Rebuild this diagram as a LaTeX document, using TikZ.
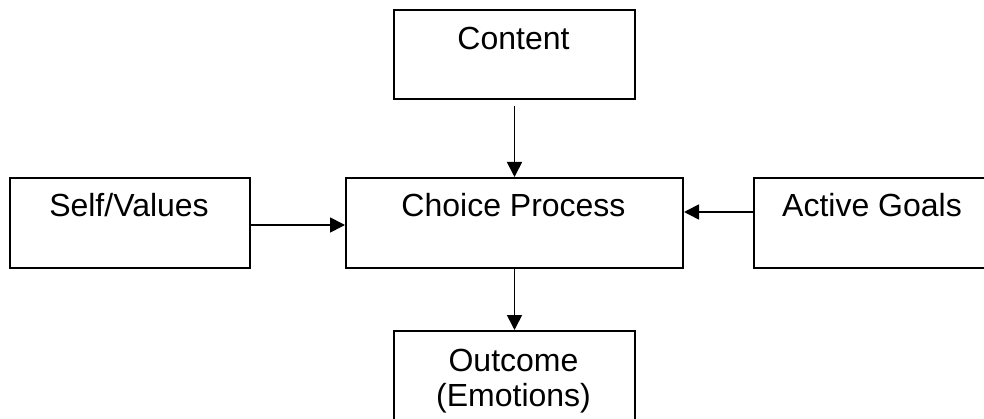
\documentclass[tikz,border=0pt]{standalone}
\usepackage{fontspec}
\setmainfont{Liberation Sans}
\usetikzlibrary{arrows.meta}
\begin{document}
\begin{tikzpicture}[x=1pt,y=-1pt,
  box/.style={draw=black,line width=2pt,rectangle,inner sep=0pt,anchor=north west},
  lbl/.style={font=\fontsize{32}{35}\selectfont,anchor=base,align=center,inner sep=0pt},
  arr/.style={line width=1.7pt,-{Triangle[length=15pt,width=15pt]}}]
\useasboundingbox (0,0) rectangle (984,419);
\node[box,minimum width=241pt,minimum height=89pt] (content) at (393,9) {};
\node[box,minimum width=240pt,minimum height=90pt] (self) at (9,177) {};
\node[box,minimum width=337pt,minimum height=90pt] (choice) at (345,177) {};
\node[box,minimum width=238pt,minimum height=90pt] (goals) at (753,177) {};
\node[box,minimum width=241pt,minimum height=100pt] (outcome) at (393,330) {};
\node[lbl] (tcontent) at (513.5,50) {Content};
\node[lbl] (tself) at (129,217) {Self/Values};
\node[lbl] (tchoice) at (513.5,217) {Choice Process};
\node[lbl] (tgoals) at (872,217) {Active Goals};
\node[lbl,anchor=north] (toutcome) at (513.5,349) {\vphantom{A}Outcome\\(Emotions)};
\draw[arr,shorten <=6pt] (content.south) -- (choice.north);
\draw[arr] (choice.south) -- (outcome.north);
\draw[arr] (self.east |- 0,225) -- (choice.west |- 0,225);
\draw[arr] (goals.west |- 0,212) -- (choice.east |- 0,212);
\end{tikzpicture}
\end{document}
